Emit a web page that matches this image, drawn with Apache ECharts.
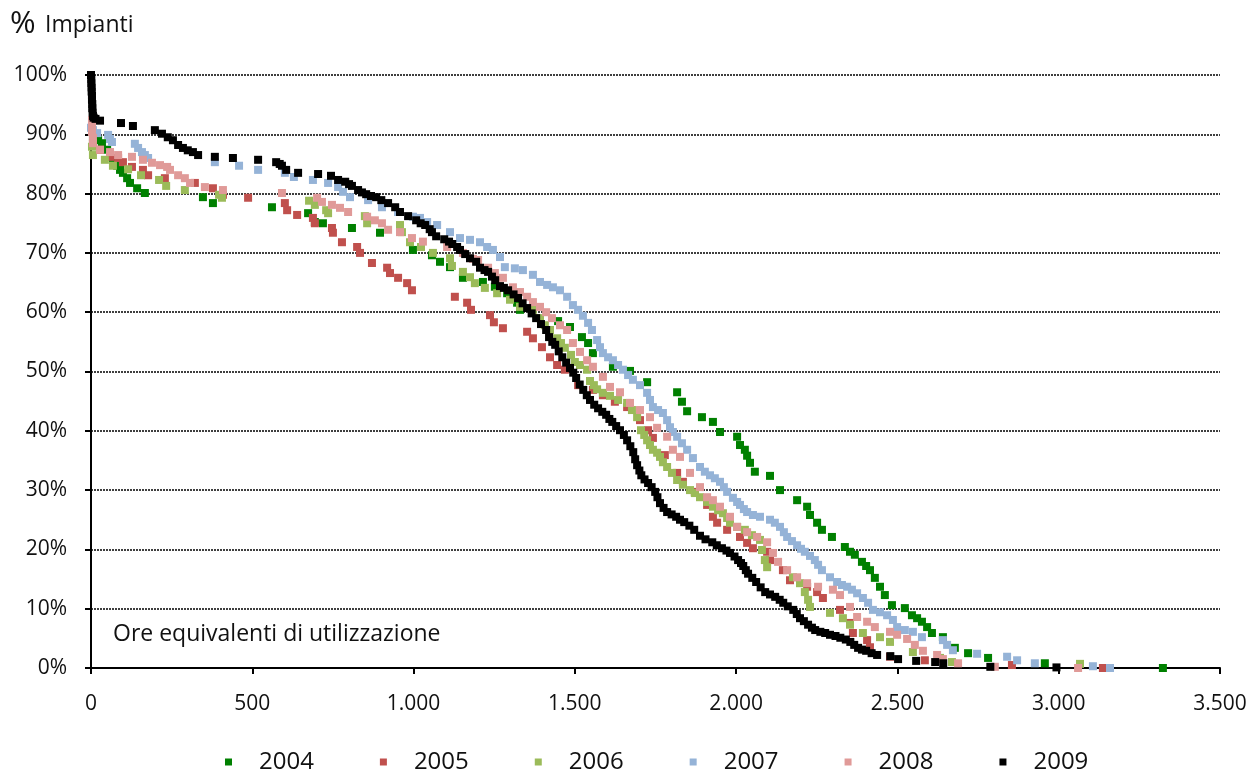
<!DOCTYPE html>
<html><head><meta charset="utf-8">
<script src="https://cdn.jsdelivr.net/npm/echarts@6/dist/echarts.min.js"></script>
<style>html,body{margin:0;padding:0;background:#fff}#c{width:1251px;height:769px}</style>
</head><body><div id="c"></div>
<script>
const years = ['2004','2005','2006','2007','2008','2009'];
const xTickLabels = ['0','500','1.000','1.500','2.000','2.500','3.000','3.500'];
const yTickLabels = ['0%','10%','20%','30%','40%','50%','60%','70%','80%','90%','100%'];

const s2004 = [[6,89.5],[22,89.0],[34,88.5],[50,87.4],[59,86.8],[68,85.7],[81,84.7],[90,84.0],[99,83.5],[112,82.6],[121,81.8],[143,80.9],[167,80.1],[347,79.4],[378,78.4],[561,77.7],[673,76.7],[694,75.2],[719,75.0],[809,74.2],[896,73.4],[998,70.5],[1057,69.6],[1082,68.5],[1113,67.6],[1153,65.8],[1215,65.1],[1252,64.3],[1290,63.2],[1321,61.6],[1330,60.4],[1448,58.5],[1485,57.5],[1522,55.8],[1541,54.8],[1556,53.1],[1618,50.8],[1671,50.1],[1724,48.2],[1817,46.5],[1832,44.9],[1848,43.3],[1894,42.3],[1928,41.5],[1950,39.8],[2003,39.0],[2012,37.6],[2027,36.8],[2034,35.8],[2043,34.6],[2058,33.1],[2105,32.4],[2136,30.0],[2189,28.3],[2220,27.2],[2229,25.8],[2251,24.5],[2266,23.3],[2297,22.1],[2337,20.4],[2353,19.6],[2368,19.1],[2390,17.9],[2403,17.2],[2415,16.5],[2430,15.2],[2446,13.7],[2461,12.3],[2483,10.6],[2523,10.1],[2545,8.9],[2561,8.4],[2576,7.8],[2592,6.9],[2607,5.9],[2641,5.2],[2678,3.4],[2719,2.5],[2781,1.7],[2957,0.8],[3323,0.0]];

const s2005 = [[6,88.2],[28,87.4],[59,86.2],[84,86.0],[99,85.3],[127,84.5],[161,84.0],[177,83.1],[229,82.6],[322,81.8],[378,80.9],[409,79.8],[487,79.3],[601,78.4],[608,77.2],[639,76.4],[688,75.9],[694,75.0],[747,74.2],[750,73.4],[778,71.8],[825,71.0],[834,70.0],[871,68.3],[918,67.5],[927,66.6],[952,65.8],[980,64.9],[995,63.7],[1128,62.6],[1166,61.6],[1178,60.4],[1237,59.5],[1249,58.3],[1277,57.3],[1352,56.7],[1370,55.6],[1398,54.1],[1423,52.4],[1445,51.1],[1469,50.3],[1510,47.7],[1556,46.9],[1587,46.0],[1624,44.9],[1662,44.0],[1702,41.8],[1727,40.1],[1742,38.8],[1779,35.9],[1817,32.9],[1835,31.4],[1872,29.7],[1910,27.5],[1928,25.5],[1941,24.5],[1972,23.3],[2012,22.1],[2034,21.1],[2052,20.2],[2096,19.6],[2105,18.2],[2145,16.5],[2167,14.8],[2220,13.7],[2251,12.8],[2269,11.8],[2322,9.8],[2353,7.6],[2362,5.9],[2406,4.7],[2415,3.5],[2477,1.9],[2585,1.3],[2855,0.5],[3137,0.0]];

const s2006 = [[3,87.9],[6,86.5],[43,85.7],[68,84.7],[115,84.1],[155,83.1],[211,82.3],[233,81.3],[291,80.6],[397,79.8],[406,79.3],[676,78.8],[694,78.1],[729,77.2],[735,76.7],[849,76.2],[856,75.0],[958,74.7],[964,73.5],[989,71.8],[1023,71.0],[1060,70.0],[1113,69.1],[1119,67.8],[1153,66.8],[1175,65.9],[1190,64.9],[1221,64.1],[1259,63.2],[1299,62.1],[1330,60.9],[1370,60.4],[1392,59.0],[1407,57.8],[1423,57.0],[1445,55.6],[1457,54.8],[1469,54.0],[1488,52.8],[1500,51.6],[1516,51.1],[1538,50.3],[1547,48.4],[1559,47.7],[1569,47.0],[1587,46.4],[1609,45.9],[1634,45.2],[1662,44.7],[1677,43.5],[1693,42.3],[1705,40.1],[1715,39.3],[1724,38.4],[1733,37.6],[1742,36.8],[1755,36.3],[1764,35.6],[1773,34.7],[1786,33.9],[1801,32.9],[1817,31.7],[1835,30.9],[1857,30.0],[1872,29.5],[1888,28.8],[1910,28.0],[1928,27.2],[1944,26.6],[1959,26.1],[1972,25.3],[1981,24.5],[2003,23.8],[2027,23.3],[2049,22.4],[2074,21.6],[2080,19.9],[2089,18.2],[2096,17.0],[2176,15.3],[2198,14.3],[2213,12.8],[2223,11.5],[2229,10.3],[2291,9.3],[2331,8.4],[2353,7.3],[2393,5.9],[2446,5.2],[2477,4.4],[2548,2.7],[2632,1.7],[2669,1.0],[3066,0.7]];

const s2007 = [[0,91.1],[6,90.7],[19,90.2],[53,89.9],[59,89.2],[65,88.7],[136,88.4],[146,87.7],[158,87.0],[167,86.5],[177,86.0],[384,85.3],[459,84.7],[518,84.0],[601,83.5],[629,82.8],[688,82.3],[735,81.8],[766,81.1],[781,80.3],[803,79.4],[859,78.9],[902,77.7],[952,76.9],[998,76.1],[1020,75.9],[1042,75.2],[1073,74.7],[1113,73.5],[1144,72.5],[1175,72.2],[1206,71.8],[1228,71.0],[1246,70.5],[1268,69.3],[1283,67.6],[1314,67.4],[1339,67.1],[1370,66.3],[1392,65.1],[1414,64.6],[1432,64.2],[1454,63.7],[1476,62.6],[1494,61.2],[1510,60.4],[1525,59.4],[1541,58.2],[1553,57.0],[1569,55.3],[1578,54.1],[1587,53.1],[1603,52.4],[1618,51.9],[1634,51.1],[1649,50.3],[1665,49.4],[1680,48.6],[1702,47.7],[1724,46.4],[1733,45.2],[1742,44.0],[1758,43.5],[1773,43.0],[1786,41.8],[1795,40.6],[1804,39.8],[1817,39.0],[1832,37.9],[1848,36.8],[1866,35.4],[1888,33.9],[1903,33.1],[1919,32.5],[1934,32.0],[1950,31.4],[1962,30.5],[1972,29.7],[1990,28.7],[2003,28.0],[2012,27.5],[2024,26.8],[2034,26.3],[2052,25.8],[2074,25.5],[2105,25.0],[2120,24.5],[2136,23.8],[2148,22.9],[2158,22.1],[2173,21.4],[2189,20.7],[2201,20.1],[2213,19.6],[2229,18.9],[2244,18.2],[2254,17.4],[2266,16.5],[2291,15.3],[2313,14.5],[2328,14.0],[2344,13.7],[2359,13.2],[2375,12.6],[2393,11.8],[2409,11.0],[2424,9.8],[2446,9.4],[2468,8.9],[2486,8.1],[2499,6.9],[2523,6.4],[2548,6.1],[2576,5.2],[2641,4.7],[2654,3.9],[2672,3.0],[2747,2.4],[2840,1.9],[2871,1.3],[2926,0.8],[3106,0.3],[3159,0.0]];

const s2008 = [[3,92.4],[3,91.4],[3,90.4],[6,89.4],[6,88.5],[28,87.4],[59,87.0],[84,86.5],[127,86.2],[161,85.7],[189,85.2],[214,84.8],[236,84.5],[245,84.0],[270,83.1],[291,82.6],[307,81.8],[353,81.1],[409,80.6],[592,80.1],[701,79.3],[716,78.6],[747,78.1],[772,77.6],[797,76.9],[856,76.1],[880,75.5],[902,75.0],[921,73.9],[958,73.5],[995,72.5],[1029,71.9],[1104,71.0],[1153,70.0],[1184,69.0],[1200,68.8],[1231,67.5],[1252,66.6],[1277,65.8],[1308,64.2],[1330,63.4],[1352,62.6],[1370,61.7],[1392,60.9],[1411,60.0],[1429,59.0],[1454,57.8],[1476,57.0],[1494,54.8],[1516,53.3],[1538,51.9],[1556,50.8],[1587,49.1],[1609,47.4],[1640,46.5],[1671,44.7],[1702,43.5],[1733,42.3],[1755,40.5],[1786,39.0],[1804,36.8],[1826,35.6],[1857,32.9],[1888,30.5],[1910,28.8],[1928,28.3],[1950,27.2],[1981,25.5],[2003,23.8],[2034,22.9],[2065,22.1],[2096,21.2],[2114,19.4],[2130,17.9],[2158,16.5],[2189,15.3],[2220,14.3],[2254,13.7],[2300,13.2],[2322,12.3],[2353,10.3],[2375,8.6],[2406,7.8],[2430,6.9],[2477,6.1],[2499,5.6],[2530,4.9],[2554,3.9],[2579,2.9],[2623,2.2],[2641,1.5],[2688,0.8],[2802,0.2],[3060,0.0]];

const s2009 = [[0,100],[1,99.3],[1,98.6],[2,97.9],[2,97.2],[3,96.5],[3,95.8],[4,95.1],[4,94.4],[5,93.7],[6,93.1],[8,92.8],[14,92.6],[28,92.3],[93,91.9],[130,91.4],[198,90.7],[220,90.1],[238,89.5],[254,89.0],[270,88.2],[285,87.7],[300,87.3],[316,87.0],[332,86.5],[384,86.2],[440,86.0],[518,85.7],[574,85.3],[585,85.0],[592,84.7],[605,84.0],[642,83.5],[704,83.3],[744,83.0],[766,82.3],[788,82.0],[800,81.6],[809,81.3],[828,80.6],[840,80.2],[853,79.9],[868,79.6],[884,79.4],[900,78.9],[921,78.4],[943,77.7],[958,76.9],[983,76.2],[1008,75.5],[1022,75.0],[1036,74.7],[1050,74.0],[1057,73.5],[1070,72.8],[1095,72.3],[1110,71.9],[1120,71.5],[1135,71.0],[1144,70.5],[1160,69.8],[1175,69.1],[1194,68.5],[1206,67.5],[1220,67.1],[1231,66.8],[1243,66.0],[1253,65.4],[1268,64.4],[1280,64.1],[1293,63.7],[1310,63.0],[1324,62.4],[1338,61.5],[1352,60.7],[1366,59.8],[1380,59.0],[1395,58.0],[1411,57.0],[1420,55.8],[1430,55.0],[1439,54.5],[1450,53.4],[1461,52.4],[1473,51.5],[1485,50.6],[1495,49.8],[1504,48.9],[1515,47.8],[1526,46.9],[1537,46.0],[1547,45.2],[1560,44.4],[1572,43.8],[1585,43.2],[1597,42.7],[1607,42.0],[1616,41.5],[1628,40.8],[1640,40.1],[1652,39.3],[1662,38.4],[1672,37.4],[1681,36.4],[1687,35.2],[1693,34.2],[1700,33.3],[1706,32.5],[1716,31.8],[1727,31.2],[1738,30.5],[1749,29.7],[1756,28.8],[1764,27.8],[1775,27.0],[1786,26.3],[1800,25.9],[1814,25.5],[1826,25.0],[1839,24.6],[1855,24.0],[1870,23.3],[1888,22.3],[1905,21.7],[1926,21.2],[1940,20.7],[1956,20.2],[1970,19.8],[1981,19.4],[1995,18.8],[2006,18.2],[2015,17.7],[2022,17.2],[2030,16.5],[2037,15.9],[2050,15.2],[2062,14.5],[2076,13.6],[2090,12.8],[2105,12.4],[2121,12.0],[2135,11.5],[2146,11.0],[2160,10.4],[2177,9.8],[2188,9.1],[2198,8.4],[2210,7.9],[2223,7.3],[2235,6.8],[2245,6.4],[2261,6.1],[2276,5.9],[2291,5.6],[2308,5.4],[2323,5.1],[2340,4.8],[2354,4.4],[2366,3.9],[2378,3.4],[2390,3.1],[2403,2.9],[2420,2.5],[2437,2.2],[2478,2.0],[2502,1.5],[2558,1.2],[2617,1.0],[2642,0.8],[2788,0.2],[2993,0.1]];

const seriesData = [s2004, s2005, s2006, s2007, s2008, s2009];
const colors = ['#008000', '#C0504D', '#9BBB59', '#95B3D7', '#E09A98', '#000000'];
const FONT = '"Open Sans", "Noto Sans", sans-serif';

const chart = echarts.init(document.getElementById('c'), null, {renderer: 'canvas'});
chart.setOption({
  animation: false,
  backgroundColor: '#ffffff',
  textStyle: {fontFamily: FONT, color: '#111'},
  grid: {left: 91, right: 31, top: 75, bottom: 101, containLabel: false},
  xAxis: {
    type: 'value', min: 0, max: 3500, interval: 500,
    axisLine: {show: true, onZero: false, lineStyle: {color: '#000', width: 2}},
    axisTick: {show: true, inside: false, length: 6, lineStyle: {color: '#000', width: 2}},
    axisLabel: {
      margin: 26, fontSize: 21, color: '#111', fontFamily: FONT,
      formatter: function (v) { return xTickLabels[Math.round(v / 500)]; }
    },
    splitLine: {show: false}
  },
  yAxis: {
    type: 'value', min: 0, max: 100, interval: 10,
    axisLine: {show: true, lineStyle: {color: '#000', width: 2}},
    axisTick: {show: true, inside: false, length: 6, lineStyle: {color: '#000', width: 2}},
    axisLabel: {
      margin: 24, fontSize: 21, color: '#111', fontFamily: FONT,
      formatter: function (v) { return yTickLabels[Math.round(v / 10)]; }
    },
    splitLine: {show: true, lineStyle: {color: '#000', width: 1.5, type: [2, 1]}}
  },
  legend: {
    data: years,
    left: 220, top: 745,
    icon: 'rect', itemWidth: 7, itemHeight: 7,
    itemGap: 66,
    itemStyle: {opacity: 1},
    textStyle: {fontSize: 24, color: '#111', fontFamily: FONT, padding: [0, 0, 0, 22]}
  },
  graphic: [
    {type: 'text', left: 10, top: 9, style: {text: '%', font: '31px ' + FONT, fill: '#111'}},
    {type: 'text', left: 45, top: 14, style: {text: 'Impianti', font: '23px ' + FONT, fill: '#111'}},
    {type: 'text', left: 113, top: 623,
     style: {text: 'Ore equivalenti di utilizzazione', font: '23px ' + FONT, fill: '#111'}}
  ],
  series: years.map(function (y, i) {
    return {
      name: y, type: 'scatter', symbol: 'rect', symbolSize: 8,
      itemStyle: {color: colors[i], opacity: 1},
      emphasis: {disabled: true},
      data: seriesData[i]
    };
  })
});
</script>
</body></html>
